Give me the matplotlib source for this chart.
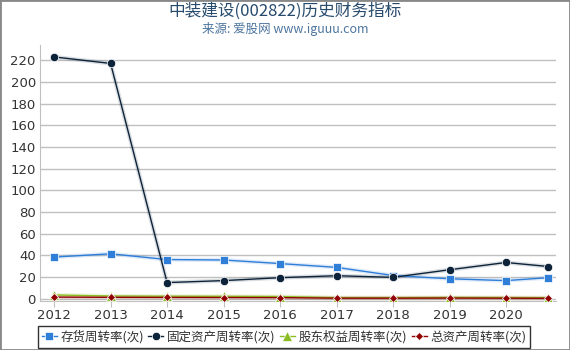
import matplotlib
matplotlib.use('Agg')
from matplotlib import pyplot as plt

plt.rcParams['font.family'] = ['Noto Sans CJK SC', 'DejaVu Sans']

# years (last point is a partial year)
years = [2012, 2013, 2014, 2015, 2016, 2017, 2018, 2019, 2020, 2020.75]
year_ticks = [2012, 2013, 2014, 2015, 2016, 2017, 2018, 2019, 2020]

inventory = [38.5, 41.5, 36.2, 35.8, 32.5, 29.0, 21.5, 18.5, 16.8, 19.5]
fixed_assets = [223.0, 217.0, 15.0, 16.8, 19.5, 21.3, 19.8, 26.8, 33.5, 29.8]
equity = [3.6, 2.6, 2.4, 2.3, 2.1, 1.1, 1.1, 1.3, 1.2, 1.0]
total_assets = [1.6, 1.4, 1.3, 1.2, 1.1, 0.6, 0.6, 0.7, 0.6, 0.5]

names = ['存货周转率(次)', '固定资产周转率(次)', '股东权益周转率(次)', '总资产周转率(次)']

fig = plt.figure(figsize=(5.7, 3.5), dpi=100)
ax = fig.add_axes([40/570, 49/350, 516/570, 256/350])

# light shadow lines first, then the real ones
series = [
    (inventory, '#2f7ed8', 's', 6),
    (fixed_assets, '#0d233a', 'o', 6),
    (equity, '#8bbc21', '^', 7),
    (total_assets, '#910000', 'D', 4),
]
for vals, col, mk, ms in series:
    ax.plot(years, vals, color=col, lw=3, alpha=0.15, zorder=2)
for (vals, col, mk, ms), nm in zip(series, names):
    ax.plot(years, vals, color=col, lw=1, marker=mk, markersize=ms,
            markeredgecolor='white', markeredgewidth=0.5, label=nm, zorder=3)

ax.set_xlim(2011.75, 2020.885)
ax.set_ylim(-2, 234)
ax.set_yticks(range(0, 221, 20))
ax.set_xticks(year_ticks)
ax.set_xticklabels([str(y) for y in year_ticks])
ax.grid(axis='y', color='#c0c0c0', lw=1)
ax.set_axisbelow(True)
for s in ['top', 'right']:
    ax.spines[s].set_visible(False)
ax.spines['left'].set_color('#c0c0c0')
ax.spines['bottom'].set_color('#c0c0c0')
ax.tick_params(axis='y', length=0, labelsize=9.5, colors='#333333', pad=3)
ax.tick_params(axis='x', length=4, color='#c0c0c0', labelsize=9.5, labelcolor='#333333', pad=2)
for lab in ax.get_xticklabels() + ax.get_yticklabels():
    lab.set_family('DejaVu Sans')

fig.text(0.5, 0.968, '中装建设(002822)历史财务指标', ha='center', va='center',
         fontsize=12, color='#274b6d')
fig.text(0.5, 0.918, '来源: 爱股网 www.iguuu.com', ha='center', va='center',
         fontsize=9, color='#4d759e')

leg = fig.legend(loc='center', bbox_to_anchor=(284/570, 1 - 337/350), ncol=4,
                 fontsize=9, frameon=True, fancybox=False, edgecolor='black',
                 handlelength=1.2, handletextpad=0.3, columnspacing=0.35,
                 borderpad=0.3, borderaxespad=0.2)
leg.get_frame().set_linewidth(1)
for t in leg.get_texts():
    t.set_color('#333333')

# grey border around the figure
fig.patches.append(plt.Rectangle((0, 0), 1, 1, transform=fig.transFigure,
                                 fill=False, edgecolor='#888888', lw=2))

fig.savefig('out.png', dpi=100)
